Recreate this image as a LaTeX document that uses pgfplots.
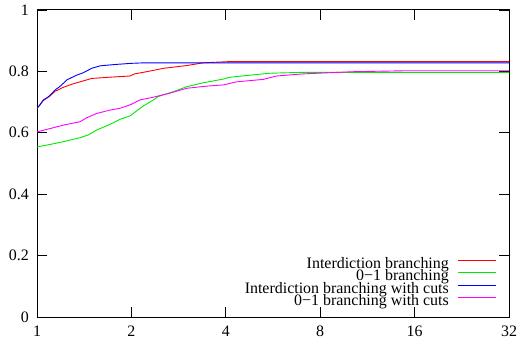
\documentclass[border=0pt]{standalone}
\usepackage{fontspec}
\setmainfont{Liberation Serif}
\usepackage{pgfplots}
\pgfplotsset{compat=1.18}
\definecolor{gpred}{RGB}{255,0,0}
\definecolor{gpgreen}{RGB}{0,235,0}
\definecolor{gpblue}{RGB}{0,0,255}
\definecolor{gpmag}{RGB}{255,0,255}
\begin{document}
\begin{tikzpicture}
\useasboundingbox (-37bp,-22bp) rectangle (481bp,317bp);
\begin{axis}[
  scale only axis, width=472bp, height=307bp,
  at={(0,0)}, anchor=south west,
  xmode=log, log basis x=2,
  xmin=1, xmax=32, ymin=0, ymax=1,
  xtick={1,2,4,8,16,32}, xticklabels={1,2,4,8,16,32},
  ytick={0,0.2,0.4,0.6,0.8,1}, yticklabels={0,0.2,0.4,0.6,0.8,1},
  tick align=inside, xtick pos=both, ytick pos=both, major tick length=10bp,
  xticklabel pos=lower, yticklabel pos=left,
  minor tick num=0,
  axis line style={line width=1bp},
  every tick/.style={black, line width=0.8bp},
  tick label style={font=\fontsize{16}{16}\selectfont, inner sep=0pt},
  xticklabel style={yshift=-9bp},
  yticklabel style={xshift=-8bp},
  legend cell align=right, legend plot pos=right,
  legend image code/.code={\draw[#1] (0bp,5.5bp) -- (38bp,5.5bp);},
  legend style={draw=none, fill=none, font=\fontsize{16}{16}\selectfont,
    at={(rel axis cs:0.974,0.025)}, anchor=south east,
    inner sep=0pt, outer sep=0pt, row sep=0pt, column sep=9bp,
    nodes={inner sep=0pt, text height=8.6bp, text depth=3.8bp}},
]
\addplot[gpred, line width=0.9bp] coordinates {
(1,0.680) (1.02,0.690) (1.047,0.705) (1.10,0.720) (1.141,0.735) (1.213,0.748)
(1.29,0.758) (1.371,0.766) (1.494,0.777) (1.7,0.781) (1.98,0.785) (2.05,0.792)
(2.237,0.799) (2.53,0.810) (3.0,0.819) (3.39,0.828) (4.12,0.832) (32,0.832)};
\addlegendentry{Interdiction branching}
\addplot[gpgreen, line width=0.9bp] coordinates {
(1,0.554) (1.1,0.562) (1.213,0.571) (1.371,0.584) (1.457,0.593) (1.549,0.609)
(1.688,0.625) (1.84,0.644) (1.98,0.655) (2.18,0.687) (2.35,0.707) (2.435,0.718)
(2.72,0.734) (3.0,0.750) (3.39,0.763) (3.93,0.775) (4.12,0.781) (5.27,0.792)
(5.53,0.794) (7.08,0.797) (32,0.797)};
\addlegendentry{0−1 branching}
\addplot[gpblue, line width=0.9bp] coordinates {
(1,0.680) (1.02,0.690) (1.047,0.707) (1.08,0.715) (1.10,0.722) (1.141,0.739)
(1.18,0.750) (1.21,0.760) (1.244,0.772) (1.29,0.780) (1.339,0.788) (1.40,0.795)
(1.45,0.803) (1.494,0.810) (1.588,0.818) (1.75,0.822) (1.98,0.826) (2.2,0.828)
(32,0.828)};
\addlegendentry{Interdiction branching with cuts}
\addplot[gpmag, line width=0.9bp] coordinates {
(1,0.603) (1.074,0.611) (1.213,0.625) (1.371,0.636) (1.44,0.649) (1.549,0.663)
(1.71,0.674) (1.84,0.680) (1.98,0.691) (2.13,0.707) (2.35,0.716) (2.65,0.729)
(3.0,0.745) (3.48,0.752) (3.93,0.756) (4.33,0.766) (5.27,0.774) (5.8,0.785)
(7.08,0.792) (10.2,0.799) (14.7,0.802) (32,0.802)};
\addlegendentry{0−1 branching with cuts}
\end{axis}
\end{tikzpicture}
\end{document}
